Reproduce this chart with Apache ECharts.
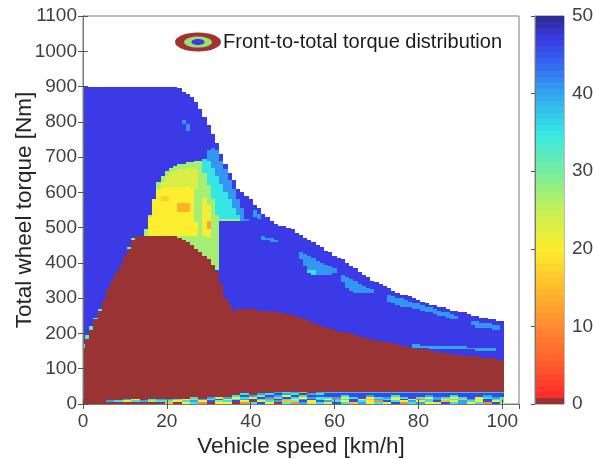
<!DOCTYPE html>
<html>
<head>
<meta charset="utf-8">
<script src="https://cdn.jsdelivr.net/npm/echarts@6/dist/echarts.min.js"></script>
<style>
html, body { margin: 0; padding: 0; background: #fff; }
#chart { width: 593px; height: 459px; }
</style>
</head>
<body>
<div id="chart"></div>
<script>
// upper torque limit (white above it)
const envelopeSpeed  = [0, 22, 25, 27, 29.5, 32, 34, 37, 40, 43, 46, 50, 55, 62, 68, 75, 83, 91, 100];
const envelopeTorque = [900, 900, 880, 855, 805, 740, 680, 610, 580, 540, 512, 493, 458, 408, 358, 316, 282, 258, 233];

// top of the 0 % (rear only) region
const rearOnlySpeed  = [0, 2.4, 6.4, 12.4, 22.3, 25.5, 29.4, 31.8, 34.2, 35.8, 37, 40, 46.9, 50, 59.6, 69.9, 79.4, 89, 100];
const rearOnlyTorque = [162, 222, 335, 474, 474, 455, 418, 380, 295, 262, 271, 270, 259, 252, 210, 181, 158, 139, 125];

// value of the plain region between the two curves
const upperValue = 47;

// patches inside the upper region: [speed, torque] outlines and their value
const rampEdge     = [[0,160],[12.4,472],[12.4,481],[0,169]];
const zoneGreen    = [[14.5,474],[15.9,531],[17.1,578],[17.9,626],[19.5,654],[21.5,673],[23.9,682],[27.1,688],[28.6,690],[30,700],[38.5,528],[39.2,518],[32.3,518],[32,380],[14,380]];
const zoneYellow   = [[15,474],[16,531],[17,578],[17.8,612],[21,618],[26.6,612],[26.8,560],[27.2,474]];
const zoneYelGreen = [[18.2,615],[19.8,645],[22,662],[25.5,670],[27.6,666],[27.3,612]];
const zoneCyan     = [[28.3,684],[29.5,702],[37.6,525],[32.2,525],[30.5,600]];
const stripeBlue   = [[29.5,702],[30.2,730],[31.8,724],[39.2,520],[37.6,520]];
const stripeYellow = [[28.3,480],[28.5,585],[29.8,590],[30.5,500],[30.3,470]];
const spotOrangeA  = [[23,545],[23,569],[25.2,569],[25.2,545]];
const spotOrangeB  = [[29.2,497],[29.2,520],[30.5,520],[30.5,497]];
const spotOrangeC  = [[18.3,573],[18.3,588],[20.8,588],[20.8,573]];
const lightBlueA   = [[23.6,806],[24.6,806],[25.7,776],[25.1,772]];
const lightBlueB   = [[40.4,552],[41.6,552],[42.4,528],[41.2,526]];
const lightBlueC   = [[43,473],[46.5,466],[46.5,457],[43,465]];
const crescent1    = [[51.5,434],[61,378],[61,369],[57.3,365],[54.5,368],[52.2,398]];
const crescentTip  = [[53.6,382],[55.8,378],[55.5,366],[53.8,368]];
const crescent2    = [[61.5,368],[69.5,322],[69.5,316],[66,315],[64.2,319],[62.2,336]];
const crescent3    = [[72.2,312],[78,290],[89.5,250],[89.5,237],[78,274],[75.6,277],[73.2,287]];
const crescent4    = [[92,238],[99.5,224],[99.5,211],[94,216]];
const streakLow    = [[79,168],[99,159],[99,150],[79,159]];

const patches = [
  [rampEdge, 32],
  [zoneGreen, 27], [zoneYellow, 20], [zoneYelGreen, 23], [zoneCyan, 35],
  [stripeBlue, 41], [stripeYellow, 21], [spotOrangeA, 14], [spotOrangeB, 13],
  [spotOrangeC, 17], [lightBlueA, 41], [lightBlueB, 41], [lightBlueC, 41],
  [crescent1, 41], [crescentTip, 35], [crescent2, 41], [crescent3, 41],
  [crescent4, 41], [streakLow, 40]
];

// low-torque band, 5 Nm rows, one value per 2 km/h (0..100)
const bandRow0 = [0,0,0, 0,0,0,0,0,0,0, 15,0,20,35,10,0,20, 20,0,10,35,46,20,0,30,10,40,22,35, 22,46,35,15,40,20,35,22,46,10,35,40,20,22,46,35,40,20,35,10,46,22];
const bandRow1 = [0,0,0, 40,35,22,35,40,28,35, 33,20,35,40,22,45,30, 35,46,20,0,22,35,40,15,30,46,20,45, 40,35,20,46,35,22,10,46,35,20,40,22,35,46,15,22,40,35,20,46,22,35];
const bandRow2 = [0,0,0, 0,0,40,22,0,35,40, 40,35,22,15,40,33,46, 22,33,40,46,35,10,0,35,22,40,46,35, 20,10,35,46,22,15,40,35,20,46,22,10,35,40,22,35,15,40,22,46,35,20];
const bandRow3 = [0,0,0, 0,0,0,0,0,0,0, 0,0,0,35,0,40,22, 40,20,35,22,46,40,33,46,35,20,40,33, 35,40,22,35,46,20,35,40,22,35,46,33,22,40,35,20,35,46,22,35,40,33];
const bandRow4 = [0,0,0, 0,0,0,0,0,0,0, 0,0,0,0,0,0,0, 0,35,46,40,30,46,40,22,46,35,46,45, 46,46,35,46,46,40,46,46,35,46,46,46,40,46,46,35,46,46,46,40,46,46];
const bandRow5 = [0,0,0, 0,0,0,0,0,0,0, 0,0,0,0,0,0,0, 0,0,35,0,40,35,46,40,35,0,40,35, 46,46,46,46,46,46,46,46,46,46,46,46,46,46,46,46,46,46,46,46,46,46];
const bandRow6 = [0,0,0, 0,0,0,0,0,0,0, 0,0,0,0,0,0,0, 0,0,0,0,0,0,40,35,40,35,0,40, 38,38,38,38,38,38,38,38,38,38,38,38,38,38,38,38,38,38,38,38,38,38];
const bandRows = [bandRow0, bandRow1, bandRow2, bandRow3, bandRow4, bandRow5, bandRow6];

const colorStops = [
  [0, '#9a3333'], [1, '#ff2b2b'], [5, '#ff5a2e'], [10, '#ff8a30'], [15, '#ffbb2a'],
  [20, '#fbee2e'], [25, '#c4f055'], [30, '#74eea0'], [35, '#35e6e6'], [40, '#33a6f0'],
  [44, '#3565f0'], [47, '#3a3ae6'], [50, '#2c2c8e']
];

function interp(xs, ys, x) {
  if (x <= xs[0]) return ys[0];
  for (let i = 1; i < xs.length; i++) {
    if (x <= xs[i]) {
      const t = (x - xs[i - 1]) / (xs[i] - xs[i - 1]);
      return ys[i - 1] + t * (ys[i] - ys[i - 1]);
    }
  }
  return ys[ys.length - 1];
}

function inside(pts, x, y) {
  let c = false;
  for (let i = 0, j = pts.length - 1; i < pts.length; j = i++) {
    const xi = pts[i][0], yi = pts[i][1], xj = pts[j][0], yj = pts[j][1];
    if ((yi > y) !== (yj > y) && x < (xj - xi) * (y - yi) / (yj - yi) + xi) c = !c;
  }
  return c;
}

function hex(c) { return [1, 3, 5].map(i => parseInt(c.substr(i, 2), 16)); }
const palette = [];
for (let v = 0; v <= 50; v++) {
  let k = 1;
  while (k < colorStops.length - 1 && colorStops[k][0] < v) k++;
  const a = colorStops[k - 1], b = colorStops[k];
  const t = Math.max(0, Math.min(1, (v - a[0]) / (b[0] - a[0])));
  const ca = hex(a[1]), cb = hex(b[1]);
  palette.push('rgb(' + ca.map((x, i) => Math.round(x + t * (cb[i] - x))).join(',') + ')');
}

// cells: 1 km/h by 5 Nm, merged into vertical runs
const cells = [];
for (let s = 0; s <= 100; s++) {
  const top = interp(envelopeSpeed, envelopeTorque, s);
  const rear = interp(rearOnlySpeed, rearOnlyTorque, s);
  let runStart = 0, runVal = null, lastTop = 0;
  for (let j = 0; j * 5 + 2.5 <= top; j++) {
    const yc = j * 5 + 2.5;
    const b = j < bandRows.length ? bandRows[j][Math.floor(s / 2)] : 0;
    let v;
    if (b > 0) v = b;
    else if (yc < rear) v = 0;
    else {
      v = upperValue;
      for (const p of patches) if (inside(p[0], s, yc)) v = p[1];
    }
    if (v !== runVal) {
      if (runVal !== null) cells.push([s, runStart, j * 5, runVal]);
      runStart = j * 5; runVal = v;
    }
    lastTop = j * 5 + 5;
  }
  if (runVal !== null) cells.push([s, runStart, lastTop, runVal]);
}

const barCells = [[0, 0, 0.8, 0]];
for (let i = 0; i < 63; i++) {
  const y0 = 0.8 + i * (49.2 / 63), y1 = y0 + 49.2 / 63;
  barCells.push([0, y0, y1, (y0 + y1) / 2]);
}

function snapRect(p0, p1, fill) {
  const x0 = Math.round(p0[0]), x1 = Math.round(p1[0]);
  const y0 = Math.round(p0[1]), y1 = Math.round(p1[1]);
  return { type: 'rect', shape: { x: x0, y: y0, width: x1 - x0, height: y1 - y0 }, style: { fill: fill } };
}
function renderCell(params, api) {
  const p0 = api.coord([api.value(0) - 0.5, api.value(2)]);
  const p1 = api.coord([api.value(0) + 0.5, api.value(1)]);
  return snapRect(p0, p1, api.visual('color'));
}
function renderBar(params, api) {
  const p0 = api.coord([0, api.value(2)]);
  const p1 = api.coord([1, api.value(1)]);
  return snapRect(p0, p1, api.visual('color'));
}

const font = 'Liberation Sans, Arial, Helvetica, sans-serif';
const lineColor = '#7a7a7a';
const tickStyle = { show: true, inside: true, length: 5, lineStyle: { color: '#555' } };
const plain = v => String(v);

const chart = echarts.init(document.getElementById('chart'));
chart.setOption({
  animation: false,
  textStyle: { fontFamily: font },
  grid: [
    { left: 83, top: 16, width: 436, height: 388, show: true, borderColor: lineColor, borderWidth: 1, outerBoundsMode: 'none' },
    { left: 535, top: 16, width: 29, height: 388, show: true, borderColor: lineColor, borderWidth: 1, outerBoundsMode: 'none' }
  ],
  visualMap: {
    type: 'continuous', show: false, min: 0, max: 50, dimension: 3,
    seriesIndex: [0, 1], inRange: { color: palette }
  },
  xAxis: [
    {
      gridIndex: 0, type: 'value', min: 0, max: 104, interval: 20, position: 'bottom', z: 10,
      name: 'Vehicle speed [km/h]', nameLocation: 'middle', nameGap: 31, nameMoveOverlap: false,
      nameTextStyle: { fontSize: 22.5, color: '#262626', fontFamily: font },
      axisLine: { show: true, lineStyle: { color: lineColor } },
      axisTick: tickStyle,
      axisLabel: { fontSize: 19, color: '#404040', margin: 8, showMaxLabel: false, fontFamily: font, formatter: plain },
      splitLine: { show: false }
    },
    {
      gridIndex: 0, type: 'value', min: 0, max: 104, interval: 20, position: 'top', z: 10,
      axisLine: { show: true, lineStyle: { color: lineColor } },
      axisTick: tickStyle, axisLabel: { show: false }, splitLine: { show: false }
    },
    { gridIndex: 1, type: 'value', min: 0, max: 1, show: false }
  ],
  yAxis: [
    {
      gridIndex: 0, type: 'value', min: 0, max: 1100, interval: 100, position: 'left', z: 10,
      name: 'Total wheel torque [Nm]', nameLocation: 'middle', nameGap: 47, nameMoveOverlap: false,
      nameTextStyle: { fontSize: 22.5, color: '#262626', fontFamily: font },
      axisLine: { show: true, lineStyle: { color: lineColor } },
      axisTick: tickStyle,
      axisLabel: { fontSize: 19, color: '#404040', margin: 6, fontFamily: font, formatter: plain },
      splitLine: { show: false }
    },
    {
      gridIndex: 0, type: 'value', min: 0, max: 1100, interval: 100, position: 'right', z: 10,
      axisLine: { show: true, lineStyle: { color: lineColor } },
      axisTick: tickStyle, axisLabel: { show: false }, splitLine: { show: false }
    },
    {
      gridIndex: 1, type: 'value', min: 0, max: 50, interval: 10, position: 'right', z: 10,
      axisLine: { show: true, lineStyle: { color: lineColor } },
      axisTick: { show: true, inside: true, length: 4, lineStyle: { color: '#555' } },
      axisLabel: { fontSize: 19, color: '#404040', margin: 8, fontFamily: font, formatter: plain },
      splitLine: { show: false }
    }
  ],
  series: [
    {
      type: 'custom', name: 'Front-to-total torque distribution',
      xAxisIndex: 0, yAxisIndex: 0, clip: true,
      encode: { x: 0, y: [1, 2] },
      renderItem: renderCell, data: cells
    },
    {
      type: 'custom', xAxisIndex: 2, yAxisIndex: 2, clip: true,
      encode: { x: 0, y: [1, 2] },
      renderItem: renderBar, data: barCells
    }
  ],
  graphic: [
    { type: 'ellipse', shape: { cx: 198, cy: 42, rx: 23, ry: 9.5 }, style: { fill: '#a03232' } },
    { type: 'ellipse', shape: { cx: 198, cy: 42, rx: 14, ry: 5.6 }, style: { fill: '#98e070' } },
    { type: 'ellipse', shape: { cx: 198, cy: 42, rx: 6.5, ry: 3 }, style: { fill: '#3a3ae6' } },
    {
      type: 'text', left: 223, top: 32,
      style: { text: 'Front-to-total torque distribution', fill: '#1a1a1a', font: '20px ' + font }
    }
  ]
});
</script>
</body>
</html>
